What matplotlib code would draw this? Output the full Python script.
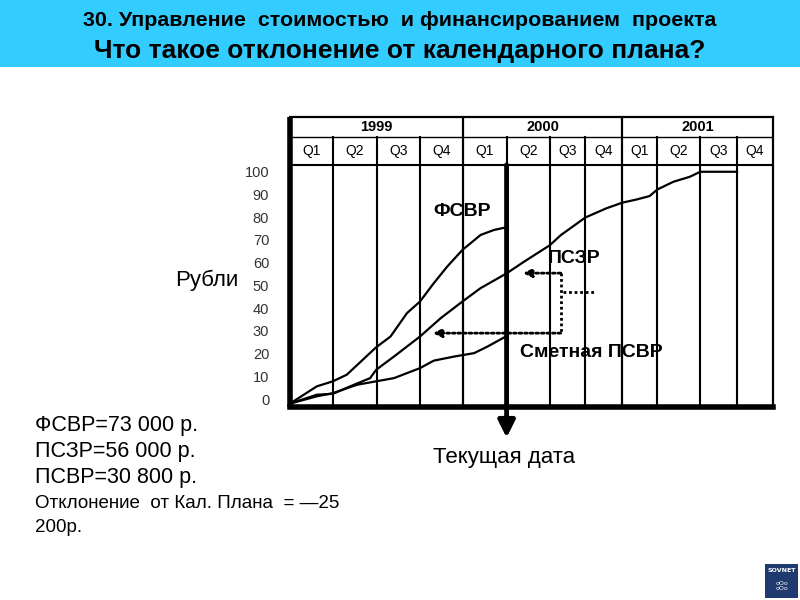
import matplotlib.pyplot as plt
from matplotlib.patches import Rectangle

# --- data ---
years = ['1999', '2000', '2001']
quarters = ['Q1', 'Q2', 'Q3', 'Q4'] * 3
# quarter boundaries (in quarter units, as drawn on the original chart)
q_edges = [0, 1, 2, 3, 4, 5, 6, 6.82, 7.67, 8.48, 9.47, 10.32, 11.15]
y_ticks = list(range(0, 101, 10))

# ФСВР (actual cost)
fsvr_x = [0, 0.62, 0.99, 1.31, 1.99, 2.32, 2.70, 3.00, 3.32, 3.63, 3.98, 4.40, 4.71, 4.98]
fsvr_y = [-2, 5.6, 7.8, 10.7, 22.8, 27.5, 37.8, 42.9, 51.0, 58.3, 65.6, 72.2, 74.4, 75.5]
# ПСЗР (planned)
pszr_x = [0, 0.62, 0.99, 1.39, 1.85, 1.99, 2.40, 3.00, 3.48, 3.98, 4.40, 5.00, 5.40, 6.00,
          6.25, 6.82, 7.30, 7.67, 8.00, 8.30, 8.48, 8.85, 9.23, 9.47, 10.32]
pszr_y = [-2, 1.9, 2.3, 5.6, 9.2, 12.9, 18.7, 27.5, 35.6, 42.9, 48.8, 55.3, 60.4, 67.7,
          72.1, 79.9, 83.9, 86.4, 87.8, 89.3, 92.2, 95.6, 97.8, 100, 100]
# Сметная ПСВР (earned value)
psvr_x = [0, 0.62, 0.99, 1.55, 1.99, 2.40, 3.00, 3.32, 3.79, 4.25, 4.56, 4.98]
psvr_y = [-2, 1.2, 2.6, 6.3, 7.8, 9.2, 13.6, 16.9, 18.7, 20.2, 23.1, 27.5]

current_date = q_edges[5]
pszr_now = 55.4
psvr_now = 29.0

arial = ['Liberation Sans', 'DejaVu Sans']

# --- figure ---
fig = plt.figure(figsize=(8, 6), dpi=100)
fig.patch.set_facecolor('white')

# header band
fig.patches.append(Rectangle((0, 1 - 67 / 600), 1, 67 / 600, transform=fig.transFigure,
                             facecolor='#33CCFF', edgecolor='none', zorder=0))
fig.text(0.5, 1 - 20 / 600, '30. Управление  стоимостью  и финансированием  проекта',
         ha='center', va='center', fontsize=15.4, fontweight='bold', family=arial)
fig.text(0.5, 1 - 51 / 600, 'Что такое отклонение от календарного плана?',
         ha='center', va='center', fontsize=19, fontweight='bold', family=arial)

y_bot, y_plot_top, y_q_top, y_top = -3.5, 103, 115.3, 124.1
x_end = q_edges[-1]

ax = fig.add_axes([290 / 800, (600 - 407) / 600, 483 / 800, 290 / 600])
ax.set_xlim(0, x_end)
ax.set_ylim(y_bot, y_top)
for s in ax.spines.values():
    s.set_visible(False)
ax.set_xticks([])
ax.set_yticks(y_ticks)
ax.set_yticklabels([str(v) for v in y_ticks], fontsize=10.5, color='#333333', family=arial)
ax.tick_params(axis='y', length=0, pad=15)

# grid / table frame
ax.plot([0, x_end], [y_plot_top] * 2, color='black', lw=1.5)
ax.plot([0, x_end], [y_q_top] * 2, color='black', lw=1.0)
ax.plot([0, x_end], [y_top] * 2, color='black', lw=1.6, clip_on=False)
ax.plot([x_end] * 2, [y_bot, y_top], color='black', lw=1.6, clip_on=False)
for i, e in enumerate(q_edges[1:-1], start=1):
    top = y_top if i % 4 == 0 else y_q_top
    ax.plot([e, e], [y_bot, top], color='black', lw=1.5 if i % 4 else 1.6)
ax.plot([0, 0], [y_bot, y_top], color='black', lw=4, clip_on=False, solid_capstyle='butt')
ax.plot([0, x_end], [y_bot, y_bot], color='black', lw=4, clip_on=False, solid_capstyle='projecting')

for k, yr in enumerate(years):
    xc = (q_edges[4 * k] + q_edges[4 * k + 4]) / 2
    ax.text(xc, (y_q_top + y_top) / 2, yr, ha='center', va='center', fontsize=10.5,
            fontweight='bold', family=arial)
for k, q in enumerate(quarters):
    xc = (q_edges[k] + q_edges[k + 1]) / 2
    ax.text(xc, (y_plot_top + y_q_top) / 2, q, ha='center', va='center', fontsize=10,
            family=arial)

# curves
for xs, ys in [(fsvr_x, fsvr_y), (pszr_x, pszr_y), (psvr_x, psvr_y)]:
    ax.plot(xs, ys, color='black', lw=1.6, solid_joinstyle='round')

# current date arrow
ax.annotate('', xy=(current_date, -17), xytext=(current_date, y_plot_top),
            arrowprops=dict(arrowstyle='-|>,head_width=0.5,head_length=1.0',
                            color='black', lw=3.5, shrinkA=0, shrinkB=0),
            annotation_clip=False)

# dotted bracket and arrows
dot = (0, (1, 1))
xb = 6.25
ax.plot([xb, xb], [pszr_now, psvr_now], color='black', lw=2, ls=dot)
ax.plot([xb + 0.05, 7.02], [47.1, 47.1], color='black', lw=2, ls=dot)
for tip, yv in [(5.38, pszr_now), (3.30, psvr_now)]:
    ax.annotate('', xy=(tip, yv), xytext=(xb, yv),
                arrowprops=dict(arrowstyle='-|>,head_width=0.25,head_length=0.5',
                                color='black', lw=2, ls=dot, shrinkA=0, shrinkB=0))

ax.text(3.30, 82.5, 'ФСВР', fontsize=14, fontweight='bold', ha='left', va='center', family=arial)
ax.text(5.95, 62, 'ПСЗР', fontsize=14, fontweight='bold', ha='left', va='center', family=arial)
ax.text(5.30, 20.5, 'Сметная ПСВР', fontsize=14, fontweight='bold', ha='left', va='center', family=arial)

# outer texts
fig.text(175 / 800, 1 - 280 / 600, 'Рубли', fontsize=16, ha='left', va='center', family=arial)
fig.text(433 / 800, 1 - 458 / 600, 'Текущая дата', fontsize=16, ha='left', va='center', family=arial)

notes = ['ФСВР=73 000 р.', 'ПСЗР=56 000 р.', 'ПСВР=30 800 р.']
for t, yp in zip(notes, [425, 451, 478]):
    fig.text(35 / 800, 1 - yp / 600, t, fontsize=15.5, ha='left', va='center', family=arial)
fig.text(35 / 800, 1 - 503 / 600, 'Отклонение  от Кал. Плана  = —25', fontsize=13.5,
         ha='left', va='center', family=arial)
fig.text(35 / 800, 1 - 527 / 600, '200р.', fontsize=13.5, ha='left', va='center', family=arial)

# logo
fig.patches.append(Rectangle((765 / 800, 1 - 598 / 600), 33 / 800, 34 / 600,
                             transform=fig.transFigure, facecolor='#1F3A6E',
                             edgecolor='none'))
fig.text(781.5 / 800, 1 - 571 / 600, 'SOVNET', fontsize=4.5, color='white',
         fontweight='bold', ha='center', va='center')
fig.text(781.5 / 800, 1 - 586 / 600, 'oOo\noOo', fontsize=4.5, color='white',
         ha='center', va='center', linespacing=0.8)

fig.savefig('out.png', dpi=100)
